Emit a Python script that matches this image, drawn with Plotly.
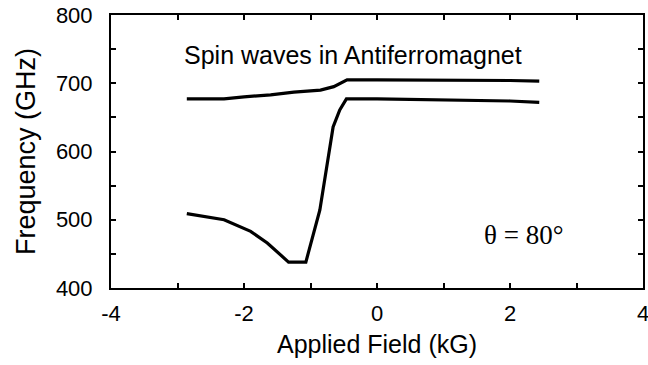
import plotly.graph_objects as go

# Data
field_upper = [-2.86, -2.3, -2.0, -1.6, -1.25, -0.85, -0.65, -0.45, 0.0, 1.0, 2.0, 2.44]
freq_upper = [677, 677, 680, 683, 687, 690, 695, 705, 705, 705, 704, 703]

field_lower = [-2.86, -2.3, -1.9, -1.65, -1.33, -1.07, -0.86, -0.74, -0.66, -0.56, -0.46, 0.0, 1.0, 2.0, 2.44]
freq_lower = [509, 500, 483, 466, 438, 438, 514, 588, 636, 661, 677, 677, 676, 674, 672]

x_ticks = [-4, -2, 0, 2, 4]
y_ticks = [400, 500, 600, 700, 800]

FONT = "Liberation Sans, Arial, Helvetica, sans-serif"

fig = go.Figure()
fig.add_trace(go.Scatter(x=field_upper, y=freq_upper, mode="lines",
                         line=dict(color="black", width=3.2), showlegend=False))
fig.add_trace(go.Scatter(x=field_lower, y=freq_lower, mode="lines",
                         line=dict(color="black", width=3.2), showlegend=False))

axis_common = dict(
    showgrid=False, zeroline=False, showline=True, linecolor="black", linewidth=2,
    mirror="ticks", ticks="inside", tickcolor="black", tickwidth=1.5, ticklen=5,
    tickfont=dict(family=FONT, size=22, color="black"), automargin=False,
    ticklabeloverflow="allow",
)

fig.update_xaxes(range=[-4, 4], tickvals=x_ticks, ticktext=[str(v) for v in x_ticks],
                 minor=dict(dtick=1, ticks="inside", ticklen=5, tickcolor="black", tickwidth=1.5),
                 ticklabelstandoff=5,
                 title=dict(text="Applied Field (kG)", font=dict(family=FONT, size=25, color="black"), standoff=10),
                 **axis_common)
fig.update_yaxes(range=[400, 800], tickvals=y_ticks, ticktext=[str(v) for v in y_ticks],
                 minor=dict(dtick=50, ticks="inside", ticklen=5, tickcolor="black", tickwidth=1.5),
                 ticklabelstandoff=12,
                 title=dict(text="Frequency (GHz)", font=dict(family=FONT, size=27, color="black"), standoff=12),
                 **axis_common)

fig.add_annotation(x=-2.93, y=742, xref="x", yref="y", text="Spin waves in Antiferromagnet",
                   showarrow=False, xanchor="left", yanchor="middle",
                   font=dict(family=FONT, size=25, color="black"))
fig.add_annotation(x=2.2, y=478, xref="x", yref="y", text="θ = 80°",
                   showarrow=False, xanchor="center", yanchor="middle",
                   font=dict(family="Liberation Serif, Times New Roman, serif", size=27, color="black"))

fig.update_layout(width=648, height=365, margin=dict(l=111, r=5, t=15, b=77),
                  plot_bgcolor="white", paper_bgcolor="white")

fig.write_html("out.html")
